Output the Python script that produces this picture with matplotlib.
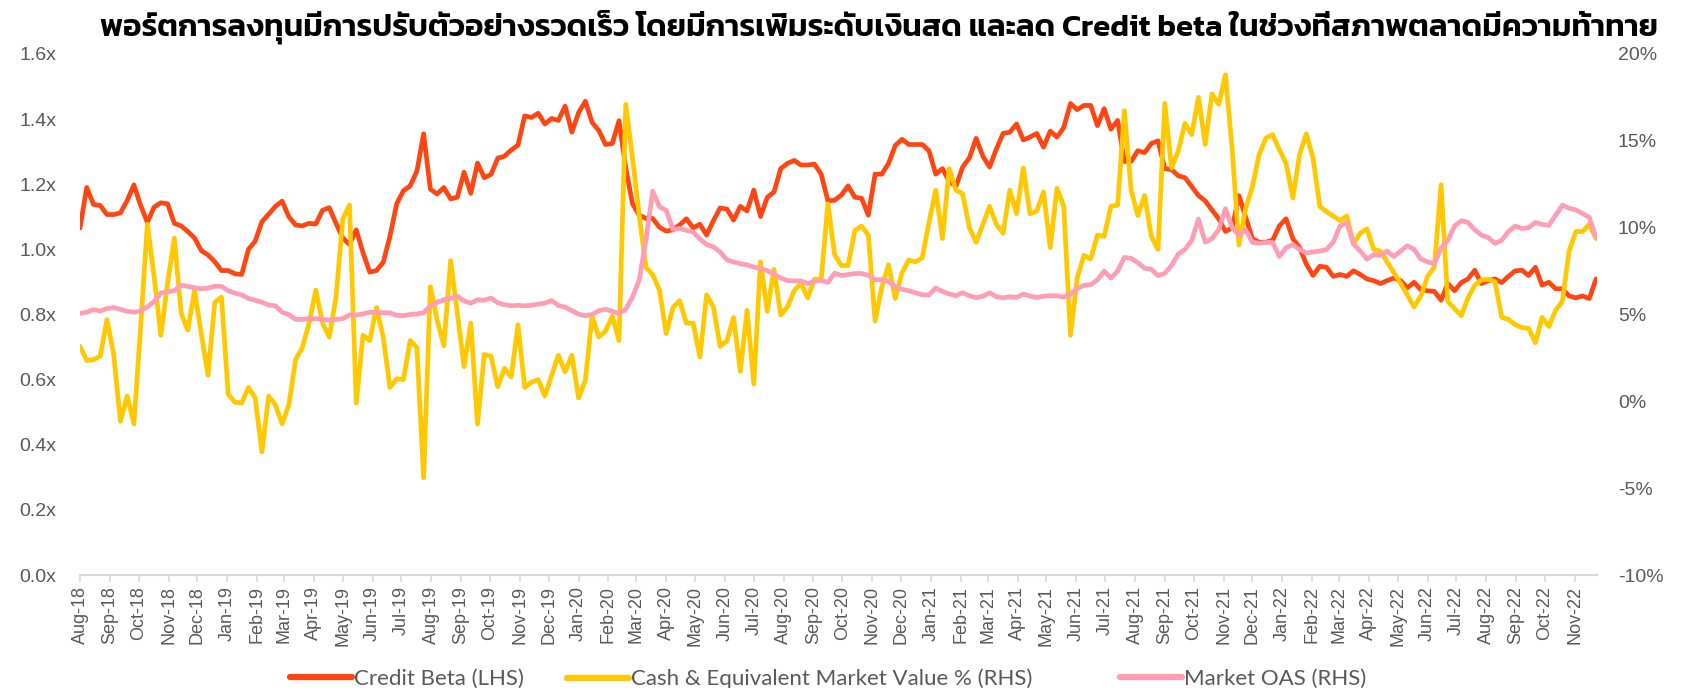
import matplotlib
matplotlib.use("Agg")
import matplotlib.pyplot as plt
import matplotlib.dates as mdates
from matplotlib.lines import Line2D
from matplotlib.ticker import FixedLocator, FuncFormatter
from matplotlib import font_manager as fm
import pandas as pd

# ---------------- data (weekly) ----------------
start_date = "2018-08-01"
n_weeks = 226

credit_beta = [
    1.066, 1.19, 1.138, 1.135, 1.107, 1.107, 1.112, 1.15, 1.198, 1.135,
    1.083, 1.13, 1.143, 1.14, 1.08, 1.072, 1.055, 1.035, 0.996, 0.983,
    0.962, 0.935, 0.935, 0.925, 0.923, 1.0, 1.025, 1.085, 1.108, 1.132,
    1.148, 1.1, 1.075, 1.072, 1.08, 1.078, 1.12, 1.128, 1.08, 1.035,
    1.015, 1.06, 0.99, 0.93,
    0.935, 0.96, 1.04, 1.14, 1.18, 1.195, 1.24, 1.355, 1.185, 1.17,
    1.19, 1.155, 1.16, 1.237, 1.172, 1.265, 1.22, 1.23, 1.28, 1.286,
    1.305, 1.32, 1.41, 1.405, 1.418, 1.385, 1.402, 1.396, 1.44, 1.36,
    1.42, 1.455, 1.39, 1.365, 1.322, 1.325, 1.395, 1.25, 1.14, 1.105,
    1.095, 1.095, 1.068, 1.056, 1.06, 1.075,
    1.094, 1.066, 1.077, 1.044, 1.088, 1.127, 1.124, 1.09, 1.132, 1.118,
    1.182, 1.101, 1.16, 1.176, 1.248, 1.264, 1.273, 1.259, 1.259, 1.262,
    1.231, 1.149, 1.151, 1.167, 1.195, 1.16, 1.157, 1.105, 1.231, 1.231,
    1.264, 1.319, 1.338, 1.322, 1.322, 1.322, 1.303, 1.231, 1.248, 1.209,
    1.193, 1.253, 1.281, 1.341, 1.286, 1.253, 1.308, 1.356,
    1.36, 1.385, 1.336, 1.345, 1.356, 1.314, 1.363, 1.345, 1.374, 1.448,
    1.429, 1.442, 1.442, 1.38, 1.432, 1.369, 1.396, 1.27, 1.27, 1.303,
    1.297, 1.325, 1.333, 1.248, 1.245, 1.226, 1.22, 1.193, 1.165, 1.149,
    1.121, 1.094, 1.055, 1.066, 1.165, 1.099, 1.033, 1.022, 1.022, 1.028,
    1.072, 1.094, 1.033, 1.006,
    0.955, 0.92, 0.948, 0.945, 0.917, 0.923, 0.917, 0.934, 0.923, 0.909,
    0.904, 0.895, 0.904, 0.912, 0.904, 0.882, 0.899, 0.876, 0.873, 0.871,
    0.844, 0.895, 0.873, 0.898, 0.909, 0.936, 0.895, 0.904, 0.909, 0.898,
    0.917, 0.934, 0.936, 0.92, 0.945, 0.89, 0.899, 0.879, 0.879, 0.857,
    0.851, 0.857, 0.849, 0.909,
]

cash_pct = [
    3.17, 2.35, 2.4, 2.6, 4.7, 2.7, -1.15, 0.3, -1.3, 4.3,
    10.2, 7.2, 3.8, 6.8, 9.4, 5.1, 4.1, 6.4, 3.9, 1.5,
    5.7, 6.0, 0.4, -0.05, -0.1, 0.8, 0.2, -2.9, 0.3, -0.2,
    -1.3, -0.2, 2.4, 3.1, 4.5, 6.4, 4.5, 3.7, 6.0, 10.5,
    11.3, -0.1, 3.8, 3.5,
    5.4, 3.7, 0.8, 1.3, 1.25, 3.5, 3.1, -4.4, 6.6, 4.7,
    3.2, 8.1, 5.1, 2.0, 4.5, -1.3, 2.7, 2.6, 0.85, 1.9,
    1.4, 4.4, 0.8, 1.1, 1.25, 0.3, 1.5, 2.65, 1.7, 2.65,
    0.2, 1.2, 4.9, 3.7, 4.05, 4.9, 3.5, 17.1, 14.0, 10.7,
    7.7, 7.3, 6.4, 3.9, 5.4, 5.8,
    4.5, 4.5, 2.55, 6.13, 5.44, 3.17, 3.48, 4.83, 1.73, 5.24,
    1.0, 8.03, 5.18, 7.6, 4.97, 5.44, 6.37, 6.79, 5.96, 7.03,
    7.03, 11.37, 8.44, 7.82, 7.82, 9.84, 10.09, 9.57, 4.62, 6.58,
    7.86, 5.92, 7.41, 8.13, 8.03, 8.27, 10.3, 12.16, 9.37, 13.4,
    12.16, 11.95, 9.99, 9.16, 10.19, 11.23, 10.19, 9.68,
    12.16, 10.8, 13.44, 10.8, 10.96, 12.05, 8.85, 12.26, 11.23, 3.8,
    7.1, 8.4, 8.2, 9.57, 9.5, 11.23, 11.3, 16.74, 12.16, 10.7,
    11.85, 9.5, 8.75, 17.15, 13.44, 14.43, 16.0, 15.36, 17.5, 14.8,
    17.7, 17.1, 18.8, 14.5, 9.0, 11.1, 12.36, 14.2, 15.15, 15.36,
    14.5, 13.7, 11.7, 14.2,
    15.4, 14.0, 11.23, 10.92, 10.67, 10.4, 10.67, 9.06, 9.68, 9.93,
    8.75, 8.65, 8.03, 7.41, 6.79, 6.13, 5.44, 6.06, 7.2, 7.72,
    12.47, 5.75, 5.34, 4.93, 5.96, 6.68, 6.99, 7.03, 6.89, 4.83,
    4.72, 4.41, 4.25, 4.2, 3.38, 4.83, 4.31, 5.24, 5.75, 8.65,
    9.78, 9.78, 10.19, 9.37,
]

market_oas = [
    5.07, 5.13, 5.28, 5.2, 5.34, 5.4, 5.3, 5.18, 5.13, 5.2,
    5.44, 5.75, 6.23, 6.31, 6.37, 6.68, 6.62, 6.54, 6.48, 6.52,
    6.62, 6.62, 6.37, 6.23, 6.13, 5.92, 5.82, 5.71, 5.55, 5.5,
    5.13, 4.99, 4.72, 4.72, 4.76, 4.76, 4.72, 4.68, 4.72, 4.76,
    4.97, 4.97, 5.03, 5.13,
    5.12, 5.1, 5.1, 4.95, 4.93, 5.0, 5.03, 5.1, 5.5, 5.7,
    5.85, 5.92, 6.05, 5.78, 5.65, 5.85, 5.82, 5.95, 5.68, 5.56,
    5.5, 5.53, 5.5, 5.53, 5.6, 5.65, 5.8, 5.52, 5.42, 5.22,
    5.02, 4.93, 5.0, 5.22, 5.3, 5.18, 5.05, 5.3, 6.0, 7.0,
    9.3, 12.1, 11.2, 11.0, 9.9, 9.95,
    9.85, 9.75, 9.35, 9.03, 8.9, 8.6, 8.15, 8.03, 7.92, 7.86,
    7.73, 7.65, 7.52, 7.32, 7.1, 6.95, 6.93, 6.93, 6.78, 6.92,
    6.95, 6.85, 7.38, 7.25, 7.3, 7.36, 7.36, 7.25, 7.0, 7.0,
    6.9, 6.6, 6.45, 6.37, 6.25, 6.13, 6.13, 6.52, 6.33, 6.18,
    6.08, 6.25, 6.08, 5.97, 6.05, 6.25, 6.02, 5.96,
    6.02, 5.98, 6.17, 6.06, 5.98, 6.05, 6.08, 6.08, 6.0, 6.17,
    6.48, 6.68, 6.72, 6.99, 7.5, 7.1, 7.5, 8.29, 8.23, 7.98,
    7.67, 7.6, 7.24, 7.37, 7.82, 8.48, 8.75, 9.27, 10.5, 9.16,
    9.37, 9.88, 11.1, 10.0, 9.57, 9.88, 9.16, 9.1, 9.15, 9.15,
    8.34, 8.85, 9.02, 8.75,
    8.54, 8.6, 8.65, 8.75, 9.16, 10.09, 10.3, 9.06, 8.65, 8.19,
    8.44, 8.4, 8.65, 8.34, 8.65, 8.96, 8.75, 8.19, 8.03, 7.92,
    8.81, 9.27, 10.09, 10.4, 10.3, 9.88, 9.57, 9.43, 9.1, 9.27,
    9.78, 10.09, 9.95, 10.0, 10.3, 10.19, 10.13, 10.71, 11.29, 11.12,
    11.02, 10.81, 10.6, 9.43,
]

left_ticks = [0.0, 0.2, 0.4, 0.6, 0.8, 1.0, 1.2, 1.4, 1.6]
right_ticks = [-10, -5, 0, 5, 10, 15, 20]

title = ("พอร์ตการลงทุนมีการปรับตัวอย่างรวดเร็ว โดยมีการเพิ่มระดับเงินสด "
         "และลด Credit beta ในช่วงที่สภาพตลาดมีความท้าทาย")
labels = ["Credit Beta (LHS)", "Cash & Equivalent Market Value % (RHS)",
          "Market OAS (RHS)"]

dates = pd.date_range(start_date, periods=n_weeks, freq="7D")

# ---------------- fonts ----------------
installed = {f.name for f in fm.fontManager.ttflist}
thai_family = None
for p in ["Kanit", "Prompt", "Noto Sans Thai", "Anuphan", "IBM Plex Sans Thai",
          "Sarabun", "Mitr"]:
    if p in installed:
        thai_family = p
        break
tick_font = "Liberation Sans"
legend_font = "Lato"

RED = "#FF4612"
YEL = "#FFC800"
PINK = "#FF9DB4"
GRAY = "#595959"
AXC = "#D9D9D9"

W, H, DPI = 1684, 688, 100
fig = plt.figure(figsize=(W / DPI, H / DPI), dpi=DPI)
L, R = 80 / W, 1597 / W
B, T = (H - 575) / H, (H - 54) / H
ax = fig.add_axes([L, B, R - L, T - B])
ax2 = ax.twinx()

ax.plot(dates, credit_beta, color=RED, lw=3.4, solid_joinstyle="round",
        solid_capstyle="round", zorder=3)
ax2.plot(dates, cash_pct, color=YEL, lw=3.4, solid_joinstyle="round",
         solid_capstyle="round", zorder=3)
ax2.plot(dates, market_oas, color=PINK, lw=3.4, solid_joinstyle="round",
         solid_capstyle="round", zorder=4)

ax.set_ylim(0, 1.6)
ax2.set_ylim(-10, 20)
ax.set_xlim(dates[0], dates[-1] + pd.Timedelta(days=1))

ax.yaxis.set_major_locator(FixedLocator(left_ticks))
ax.yaxis.set_major_formatter(FuncFormatter(lambda v, p: f"{v:.1f}x"))
ax2.yaxis.set_major_locator(FixedLocator(right_ticks))
ax2.yaxis.set_major_formatter(FuncFormatter(lambda v, p: f"{v:.0f}%"))

ax.xaxis.set_major_locator(mdates.MonthLocator())
ax.xaxis.set_major_formatter(mdates.DateFormatter("%b-%y"))

for a in (ax, ax2):
    for s in ("top", "left", "right", "bottom"):
        a.spines[s].set_visible(False)
ax.spines["bottom"].set_visible(True)
ax.spines["bottom"].set_color(AXC)
ax.spines["bottom"].set_linewidth(1.5)

ax.tick_params(axis="y", length=0, pad=17, labelsize=14, labelcolor=GRAY)
ax2.tick_params(axis="y", length=0, pad=15, labelsize=14, labelcolor=GRAY)
ax.tick_params(axis="x", length=5, width=1.2, color=AXC, pad=3,
               labelsize=13, labelcolor=GRAY, labelrotation=90)
for lab in ax.get_xticklabels() + ax.get_yticklabels() + ax2.get_yticklabels():
    lab.set_fontfamily(tick_font)

# ---------------- legend: one entry per position, as in the reference -------
colors = (RED, YEL, PINK)
anchors_px = (290, 567, 1120)
for c, lab, xa in zip(colors, labels, anchors_px):
    h = Line2D([], [], color=c, lw=4.5, solid_capstyle="round")
    lg = fig.legend([h], [lab], loc="center left",
                    bbox_to_anchor=(xa / W, 0.013), frameon=False,
                    handlelength=2.8, handletextpad=0.1, borderpad=0,
                    borderaxespad=0,
                    prop={"family": legend_font, "size": 16})
    for t in lg.get_texts():
        t.set_color(GRAY)

# ---------------- title ----------------
tfam = [thai_family, "DejaVu Sans"] if thai_family else ["DejaVu Sans"]
x0, base = 100 / W, 1 - 35 / H
ttl = fig.text(x0, base, title, ha="left", va="baseline", fontsize=22,
               fontfamily=tfam, fontweight=600, color="black")
renderer = fig.canvas.get_renderer()
fig.canvas.draw()
w = ttl.get_window_extent(renderer).width
if w > 0:
    ttl.set_fontsize(22 * 1549.0 / w)

fig.savefig("out.png", dpi=DPI)
